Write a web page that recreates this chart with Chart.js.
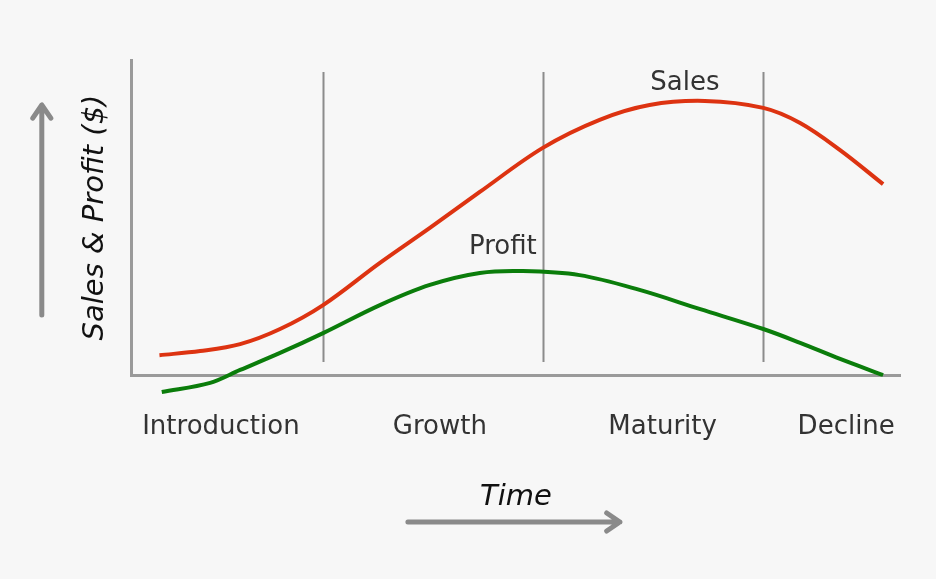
<!DOCTYPE html>
<html lang="en">
<head>
  <meta charset="UTF-8" />
  <title>Product Life Cycle</title>
  <style>
    body {
      margin: 0;
      background: #f7f7f7;
    }
    canvas {
      display: block;
    }
  </style>
  <script src="https://cdn.jsdelivr.net/npm/chart.js"></script>
</head>
<body>
  <canvas id="lifeCycle" width="936" height="579"></canvas>
  <script>
    // Life cycle stages and where their names sit on the time axis
    const phaseNames = ["Introduction", "Growth", "Maturity", "Decline"];
    const phaseLabelAt = [11.6, 40.1, 69.1, 93.0];
    const phaseBounds = [24.9, 53.5, 82.2];

    // Sales curve (time, value)
    const salesTime = [3.6, 8.9, 14.1, 19.3, 24.9, 32.3, 38.8, 45.3, 53.5, 60.9, 67.4, 74.6, 82.2, 87.0, 92.2, 97.8];
    const salesValue = [6.3, 7.6, 9.8, 14.6, 22.2, 35.6, 46.7, 58.1, 72.1, 81.0, 85.7, 87.0, 84.8, 80.0, 71.4, 60.6];

    // Profit curve (time, value)
    const profitTime = [3.9, 10.2, 14.1, 19.3, 24.9, 32.3, 38.8, 45.3, 50.9, 58.3, 66.1, 74.0, 82.2, 87.0, 92.2, 97.8];
    const profitValue = [-5.4, -2.5, 1.6, 7.0, 13.3, 22.2, 28.6, 32.4, 33.0, 31.7, 27.0, 20.9, 14.6, 10.2, 5.1, 0];

    const FONT = "'DejaVu Sans', Verdana, sans-serif";

    function toPoints(xs, ys) {
      return xs.map((x, i) => ({ x: x, y: ys[i] }));
    }

    function drawArrow(ctx, x1, y1, x2, y2) {
      const ang = Math.atan2(y2 - y1, x2 - x1);
      const head = 16;
      ctx.beginPath();
      ctx.moveTo(x1, y1);
      ctx.lineTo(x2, y2);
      ctx.moveTo(x2 - head * Math.cos(ang - 0.6), y2 - head * Math.sin(ang - 0.6));
      ctx.lineTo(x2, y2);
      ctx.lineTo(x2 - head * Math.cos(ang + 0.6), y2 - head * Math.sin(ang + 0.6));
      ctx.stroke();
    }

    // background, stage dividers, arrows and curve names
    const decorations = {
      id: "decorations",
      beforeDraw(chart) {
        const ctx = chart.ctx;
        ctx.save();
        ctx.fillStyle = "#f7f7f7";
        ctx.fillRect(0, 0, chart.width, chart.height);
        ctx.restore();
      },
      beforeDatasetsDraw(chart) {
        const { ctx, chartArea, scales } = chart;
        ctx.save();
        ctx.strokeStyle = "#8c8c8c";
        ctx.lineWidth = 2;
        phaseBounds.forEach(b => {
          const x = Math.round(scales.x.getPixelForValue(b)) + 0.5;
          ctx.beginPath();
          ctx.moveTo(x, chartArea.top + 12);
          ctx.lineTo(x, chartArea.bottom - 13);
          ctx.stroke();
        });
        ctx.restore();
      },
      afterDraw(chart) {
        const { ctx, chartArea, scales } = chart;
        ctx.save();
        // axis arrows
        ctx.strokeStyle = "#8a8a8a";
        ctx.lineWidth = 5;
        ctx.lineCap = "round";
        ctx.lineJoin = "round";
        drawArrow(ctx, chartArea.left - 90, chartArea.bottom - 60, chartArea.left - 90, chartArea.top + 45);
        const cx = (chartArea.left + chartArea.right) / 2;
        drawArrow(ctx, cx - 108, chartArea.bottom + 147, cx + 104, chartArea.bottom + 147);

        // curve names placed above each curve's peak
        ctx.fillStyle = "#333";
        ctx.font = "26px " + FONT;
        ctx.textAlign = "center";
        ctx.textBaseline = "middle";
        const si = salesValue.indexOf(Math.max(...salesValue));
        ctx.fillText("Sales", scales.x.getPixelForValue(salesTime[si]) - 20, scales.y.getPixelForValue(salesValue[si]) - 18);
        const pi = profitValue.indexOf(Math.max(...profitValue));
        ctx.fillText("Profit", scales.x.getPixelForValue(profitTime[pi]) - 20, scales.y.getPixelForValue(profitValue[pi]) - 24);
        ctx.restore();
      }
    };

    new Chart(document.getElementById("lifeCycle"), {
      type: "line",
      data: {
        datasets: [
          {
            label: "Sales",
            data: toPoints(salesTime, salesValue),
            borderColor: "#dd3311",
            borderWidth: 4,
            pointRadius: 0,
            tension: 0.35,
            clip: false
          },
          {
            label: "Profit",
            data: toPoints(profitTime, profitValue),
            borderColor: "#0b7d0b",
            borderWidth: 4,
            pointRadius: 0,
            tension: 0.35,
            clip: false
          }
        ]
      },
      options: {
        responsive: false,
        animation: false,
        layout: { padding: { left: 0, top: 60, right: 36, bottom: 64 } },
        plugins: {
          legend: { display: false },
          tooltip: { enabled: false }
        },
        scales: {
          x: {
            type: "linear",
            min: 0,
            max: 100,
            afterBuildTicks: scale => {
              scale.ticks = phaseLabelAt.map(v => ({ value: v }));
            },
            grid: { display: false, drawTicks: false },
            border: { display: true, color: "#9a9a9a", width: 3 },
            ticks: {
              autoSkip: false,
              maxRotation: 0,
              padding: 37,
              color: "#333",
              font: { family: FONT, size: 26 },
              callback: (value, index) => phaseNames[index]
            },
            title: {
              display: true,
              text: "Time",
              color: "#111",
              font: { family: FONT, size: 29, style: "italic" },
              padding: { top: 0, bottom: 0 }
            }
          },
          y: {
            min: 0,
            max: 100,
            grid: { display: false, drawTicks: false },
            border: { display: true, color: "#9a9a9a", width: 3 },
            ticks: { display: false },
            title: {
              display: true,
              text: "Sales & Profit ($)",
              color: "#111",
              font: { family: FONT, size: 29, style: "italic" },
              padding: { top: 78, bottom: 19 }
            }
          }
        }
      },
      plugins: [decorations]
    });
  </script>
</body>
</html>
